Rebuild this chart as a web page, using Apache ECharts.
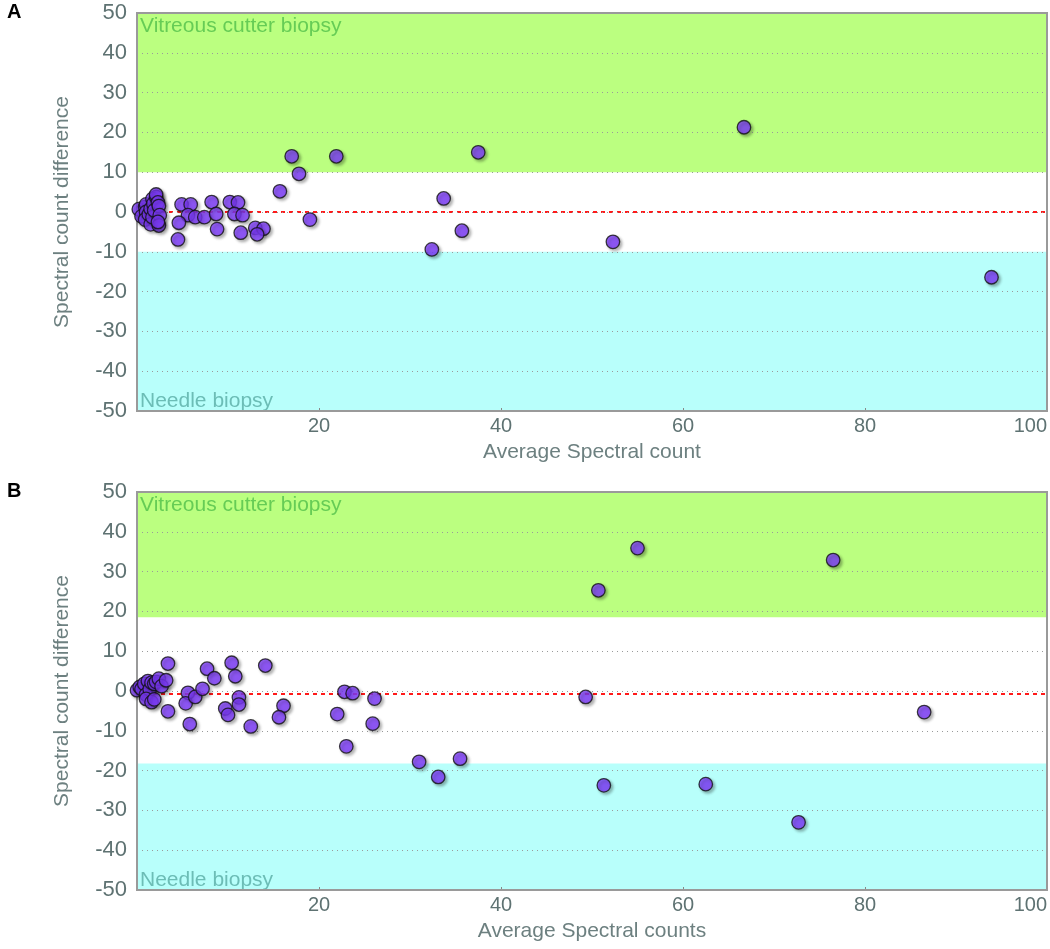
<!DOCTYPE html>
<html>
<head>
<meta charset="utf-8">
<script src="https://cdn.jsdelivr.net/npm/echarts@6/dist/echarts.min.js"></script>
<style>
html,body{margin:0;padding:0;background:#fff;}
#c{width:1050px;height:949px;}
</style>
</head>
<body>
<div id="c"></div>
<script>
// Panel A: [average spectral count, spectral count difference]
const pointsA = [
  [0.2,0.7],[0.5,-1.1],[0.9,1.3],[1.0,1.9],[1.0,0.0],[0.9,-1.9],[1.3,-0.6],[1.5,0.8],
  [1.5,-3.1],[1.7,-1.3],[1.7,3.3],[1.8,2.1],[1.9,0.4],[2.1,3.8],[2.1,4.4],[2.3,2.4],
  [2.4,1.5],[2.5,-0.8],[2.4,-3.4],[2.3,-2.5],
  [4.9,1.9],[5.9,1.9],[8.2,2.5],[10.2,2.5],[11.1,2.4],[5.6,-0.8],[6.4,-1.3],[7.4,-1.3],
  [8.7,-0.5],[10.7,-0.5],[11.6,-0.8],[4.6,-2.7],[8.8,-4.3],[11.4,-5.2],[13.0,-4.0],
  [13.9,-4.2],[13.2,-5.6],[4.5,-6.9],
  [15.7,5.2],[17.0,14.0],[17.8,9.6],[19.0,-1.9],[21.9,14.0],[32.4,-9.4],[33.7,3.4],
  [35.7,-4.7],[37.5,15.0],[52.3,-7.5],[66.7,21.3],[93.9,-16.4]
];
const meanA = 0.1;
const upperA = 10;
const lowerA = -10;

// Panel B
const pointsB = [
  [0.0,0.2],[0.3,1.0],[0.5,0.5],[0.8,1.8],[1.2,2.5],[1.0,-0.9],[1.4,0.4],[1.6,2.1],
  [1.0,-2.0],[1.6,-2.8],[1.9,-2.1],[1.9,1.8],[2.1,2.3],[2.4,3.1],[2.7,1.2],[3.2,2.7],
  [3.4,6.9],[3.4,-5.1],
  [5.6,-0.45],[5.35,-3.1],[6.4,-1.5],[5.8,-8.3],[7.2,0.55],[7.7,5.6],[8.5,3.2],[10.4,7.1],
  [10.8,3.7],[11.2,-1.6],[11.2,-3.4],[9.7,-4.4],[10.0,-6.0],[12.5,-8.9],[14.1,6.4],
  [16.1,-3.7],[15.6,-6.6],[22.0,-5.8],[22.8,-0.2],[23.7,-0.55],[23.0,-13.9],[25.9,-8.2],
  [26.1,-1.9],[31.0,-17.8],[33.1,-21.6],[35.5,-17.0],[49.3,-1.5],[50.7,25.3],[51.3,-23.7],
  [55.0,35.9],[62.5,-23.4],[72.7,-33.0],[76.5,32.9],[86.5,-5.3]
];
const meanB = -0.8;
const upperB = 18.5;
const lowerB = -18.2;

const xTitles = ['Average Spectral count', 'Average Spectral counts'];
const yTitle = 'Spectral count difference';
const panelLabels = ['A', 'B'];
const zoneLabels = ['Vitreous cutter biopsy', 'Needle biopsy'];

const tickColor = '#5e7272';
const titleColor = '#6d8080';
const FONT = 'Liberation Sans, Arial, sans-serif';

function xAxisFor(i, title) {
  return {
    gridIndex: i, type: 'value', min: 0, max: 100, interval: 20, z: 10,
    name: title, nameLocation: 'middle', nameGap: 31,
    nameTextStyle: {color: titleColor, fontSize: 21, fontFamily: FONT},
    axisLine: {show: false, onZero: false},
    axisTick: {show: true, inside: true, length: 3, lineStyle: {color: '#888'}},
    axisLabel: {showMinLabel: false, alignMaxLabel: 'right', color: tickColor, fontSize: 20, fontFamily: FONT, margin: 5},
    splitLine: {show: false}
  };
}
function yAxisFor(i) {
  return {
    gridIndex: i, type: 'value', min: -50, max: 50, interval: 10, z: 10,
    name: yTitle, nameLocation: 'middle', nameGap: 64,
    nameTextStyle: {color: titleColor, fontSize: 21, fontFamily: FONT},
    axisLine: {show: false, onZero: false}, axisTick: {show: false},
    axisLabel: {color: tickColor, fontSize: 22, fontFamily: FONT, margin: 10},
    splitLine: {show: true, lineStyle: {color: '#9a9a9a', type: [1, 4], width: 1}}
  };
}
function bandSeries(i, upper, lower, mean) {
  return {
    type: 'line', xAxisIndex: i, yAxisIndex: i, data: [], z: 1, silent: true,
    markArea: {
      silent: true,
      data: [
        [{yAxis: upper, itemStyle: {color: '#bbff80'},
          label: {show: true, position: 'insideTopLeft', formatter: zoneLabels[0], color: '#66cc55', fontSize: 21, fontFamily: FONT, offset: [-2, -2]}},
         {yAxis: 50}],
        [{yAxis: -50, itemStyle: {color: '#b8fffb'},
          label: {show: true, position: 'insideBottomLeft', formatter: zoneLabels[1], color: '#6cbdb6', fontSize: 21, fontFamily: FONT, offset: [-2, 6]}},
         {yAxis: lower}]
      ]
    },
    markLine: {
      silent: true, symbol: 'none',
      label: {show: false},
      lineStyle: {color: '#ff1a1a', type: [4, 4], width: 2},
      data: [{yAxis: mean}]
    }
  };
}
function pointSeries(i, pts) {
  return {
    type: 'scatter', xAxisIndex: i, yAxisIndex: i, data: pts, z: 20,
    symbolSize: 13.5,
    itemStyle: {color: '#7f3cff', borderColor: '#111', borderWidth: 1.3,
      shadowBlur: 3, shadowOffsetX: 2, shadowOffsetY: 2, shadowColor: 'rgba(0,0,0,0.35)'}
  };
}

const chart = echarts.init(document.getElementById('c'), null, {renderer: 'canvas'});
chart.setOption({
  backgroundColor: '#fff',
  animation: false,
  textStyle: {fontFamily: FONT},
  title: [
    {text: panelLabels[0], left: 2, top: -3, textStyle: {fontSize: 20, fontWeight: 'bold', color: '#000', fontFamily: FONT}},
    {text: panelLabels[1], left: 2, top: 476, textStyle: {fontSize: 20, fontWeight: 'bold', color: '#000', fontFamily: FONT}}
  ],
  grid: [
    {left: 137, top: 13, width: 910, height: 398, show: true, z: 15, backgroundColor: 'transparent', borderColor: '#9a9a9a', borderWidth: 2},
    {left: 137, top: 492, width: 910, height: 398, show: true, z: 15, backgroundColor: 'transparent', borderColor: '#9a9a9a', borderWidth: 2}
  ],
  xAxis: [xAxisFor(0, xTitles[0]), xAxisFor(1, xTitles[1])],
  yAxis: [yAxisFor(0), yAxisFor(1)],
  series: [
    bandSeries(0, upperA, lowerA, meanA),
    bandSeries(1, upperB, lowerB, meanB),
    pointSeries(0, pointsA),
    pointSeries(1, pointsB)
  ]
});
</script>
</body>
</html>
